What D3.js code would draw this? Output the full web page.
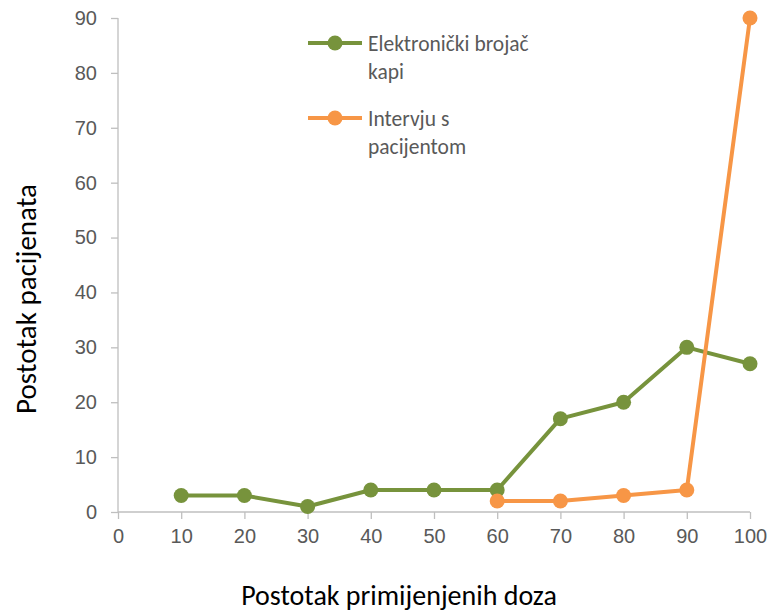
<!DOCTYPE html>
<html>
<head>
<meta charset="utf-8">
<script src="https://cdn.jsdelivr.net/npm/d3@7"></script>
<style>
  body { margin: 0; background: #fff; }
  svg { display: block; font-family: Carlito, Lato, "Open Sans", sans-serif; }
  .axis path, .axis line { stroke: #bfbfbf; stroke-width: 1.3; }
  .axis text { fill: #595959; font-size: 20px; }
</style>
</head>
<body>
<div id="chart"></div>
<script>
const xTicks = [0, 10, 20, 30, 40, 50, 60, 70, 80, 90, 100];
const yTicks = [0, 10, 20, 30, 40, 50, 60, 70, 80, 90];

const greenX = [10, 20, 30, 40, 50, 60, 70, 80, 90, 100];
const greenY = [3, 3, 1, 4, 4, 4, 17, 20, 30, 27];
const orangeX = [60, 70, 80, 90, 100];
const orangeY = [2, 2, 3, 4, 90];

const series = [
  { name: ["Elektronički brojač", "kapi"], color: "#77933c", xs: greenX, ys: greenY },
  { name: ["Intervju s", "pacijentom"], color: "#f79646", xs: orangeX, ys: orangeY },
];

const width = 772;
const height = 613;

const svg = d3.select("#chart").append("svg")
  .attr("width", width)
  .attr("height", height);

const xScale = d3.scaleLinear().domain([0, 100]).range([118, 750]);
const yScale = d3.scaleLinear().domain([0, 90]).range([512, 18]);

svg.append("g")
  .attr("class", "axis xaxis")
  .attr("transform", `translate(0, ${yScale(0)})`)
  .call(d3.axisBottom(xScale).tickValues(xTicks).tickSize(7).tickSizeOuter(0).tickPadding(10))
  .call((g) => g.select(".domain").attr("d", `M${xScale(0)},0H${xScale(100)}`));

svg.append("g")
  .attr("class", "axis yaxis")
  .attr("transform", `translate(${xScale(0)}, 0)`)
  .call(d3.axisLeft(yScale).tickValues(yTicks).tickSize(7).tickSizeOuter(0).tickPadding(14))
  .call((g) => g.select(".domain").attr("d", `M0,${yScale(0)}V${yScale(90)}`));

const line = d3.line().x((d) => xScale(d[0])).y((d) => yScale(d[1]));

series.forEach((s) => {
  const pts = s.xs.map((x, i) => [x, s.ys[i]]);
  svg.append("path")
    .datum(pts)
    .attr("fill", "none")
    .attr("stroke", s.color)
    .attr("stroke-width", 4)
    .attr("stroke-linejoin", "round")
    .attr("d", line);
  svg.append("g").selectAll("circle")
    .data(pts)
    .join("circle")
    .attr("cx", (d) => xScale(d[0]))
    .attr("cy", (d) => yScale(d[1]))
    .attr("r", 7.5)
    .attr("fill", s.color);
});

// legend
series.forEach((s, i) => {
  const y = 43 + i * 75;
  const g = svg.append("g");
  g.append("line")
    .attr("x1", 308).attr("x2", 362)
    .attr("y1", y).attr("y2", y)
    .attr("stroke", s.color).attr("stroke-width", 4);
  g.append("circle").attr("cx", 335).attr("cy", y).attr("r", 7.5).attr("fill", s.color);
  s.name.forEach((t, j) => {
    g.append("text")
      .attr("x", 368)
      .attr("y", y + 8 + j * 28)
      .attr("fill", "#595959")
      .style("font-size", "21.5px")
      .text(t);
  });
});

svg.append("text")
  .attr("x", 399)
  .attr("y", 605)
  .attr("text-anchor", "middle")
  .style("font-size", "28px")
  .attr("fill", "#000")
  .text("Postotak primijenjenih doza");

svg.append("text")
  .attr("transform", `translate(36, 299) rotate(-90)`)
  .attr("text-anchor", "middle")
  .style("font-size", "29px")
  .attr("fill", "#000")
  .text("Postotak pacijenata");
</script>
</body>
</html>
